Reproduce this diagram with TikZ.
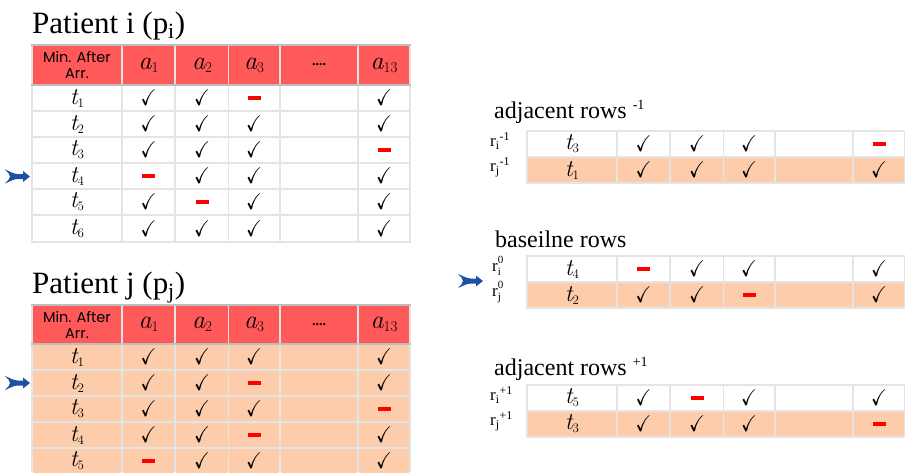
\documentclass[tikz,border=0pt]{standalone}
\usepackage{amssymb}
\usepackage{graphicx}
\usepackage{fontspec}
\setmainfont{Liberation Serif}
\newfontfamily\serifont{Liberation Serif}
\newfontfamily\handfont{Poppins}
\newfontfamily\lmfont{Latin Modern Roman}
\definecolor{headred}{RGB}{255,89,89}
\definecolor{peach}{RGB}{253,204,170}
\definecolor{gridgray}{RGB}{228,228,228}
\definecolor{edgegray}{RGB}{190,190,190}
\definecolor{dashred}{RGB}{255,0,0}
\definecolor{arrowblue}{RGB}{31,80,165}
\newcommand\mkk{\scalebox{1}[1.2]{\checkmark}}
\newcommand\mkd{\textcolor{dashred}{\rule{13pt}{4pt}}}
\newcommand\tlbl[1]{{\itshape t}\raisebox{-3pt}{\fontsize{13}{13}\selectfont #1}}
\newcommand\albl[1]{{\itshape a}\raisebox{-3pt}{\fontsize{15}{15}\selectfont #1}}
\def\xo{0}
\tikzset{
 cellmark/.style={inner sep=0pt,font=\fontsize{19}{19}\selectfont},
 tlab/.style={inner sep=0pt,font=\lmfont\fontsize{24}{24}\selectfont},
 alab/.style={inner sep=0pt,font=\lmfont\fontsize{26}{26}\selectfont},
 minlab/.style={inner sep=0pt,align=center,font=\handfont\fontsize{14.5}{16}\selectfont},
 titletext/.style={inner sep=0pt,anchor=base west,font=\serifont\fontsize{31}{31}\selectfont},
 subtitle/.style={inner sep=0pt,anchor=base west,font=\serifont\fontsize{24}{24}\selectfont},
 rlab/.style={inner sep=0pt,anchor=west,font=\serifont\fontsize{17}{17}\selectfont},
 fletch/.pic={\fill[arrowblue] (-25,-7) .. controls (-19,-4.5) and (-16,-2.5) .. (-12,-2.5) -- (-7,-2.5) -- (-7,-5.5) -- (0,0) -- (-7,5.5) -- (-7,2.5) -- (-12,2.5) .. controls (-16,2.5) and (-19,4.5) .. (-25,7) .. controls (-21,3) .. (-20,0) .. controls (-21,-3) .. (-25,-7) -- cycle;}
}
% data row: #1 name, #2 top, #3 bottom, #4 fill, #5 t index, #6 marks
\newcommand\drow[6]{%
  \foreach \lx/\rx in {33/121,123/174,176/228,229/279,281/357,359/409}
    \fill[#4] ({\lx+\xo},#2) rectangle ({\rx+\xo},#3);
  \node[tlab] (#1-t) at ({77+\xo},{(#2+#3)/2}) {\tlbl{#5}};
  \foreach \m [count=\k] in {#6} {
    \pgfmathsetmacro\cx{{148.5,202,254,384}[\k-1]+\xo}
    \node[cellmark] (#1-\k) at (\cx,{(#2+#3)/2}) {\csname mk\m\endcsname};
  }%
}
% header row: #1 name, #2 top, #3 bottom
\newcommand\hrow[3]{%
  \foreach \lx/\rx in {33/121,123/174,176/228,229/279,281/357,359/409}
    \fill[headred] (\lx,#2) rectangle (\rx,#3);
  \node[minlab] (#1-h0) at (77,{(#2+#3)/2}) {Min. After\\Arr.};
  \node[alab] (#1-h1) at (148.5,{(#2+#3)/2}) {\albl{1}};
  \node[alab] (#1-h2) at (202,{(#2+#3)/2}) {\albl{2}};
  \node[alab] (#1-h3) at (254,{(#2+#3)/2}) {\albl{3}};
  \node[alab,font=\fontsize{14}{14}\selectfont] (#1-h4) at (319,{(#2+#3)/2}) {\textbf{....}};
  \node[alab] (#1-h5) at (384,{(#2+#3)/2}) {\albl{13}};
}
\begin{document}
\begin{tikzpicture}[x=1pt,y=-1pt]
\useasboundingbox (0,0) rectangle (905,472);
\fill[white] (0,0) rectangle (905,472);

% ---------- Patient i ----------
\node[titletext] (ti) at (32,33) {Patient i (p\textsubscript{i})};
\fill[gridgray] (31,44) rectangle (411,243);
\fill[edgegray] (31,44) rectangle (411,46);
\fill[edgegray] (31,84) rectangle (411,86);
\hrow{pi}{46}{84}
\drow{pi1}{86}{110}{white}{1}{k,k,d,k}
\drow{pi2}{112}{136}{white}{2}{k,k,k,k}
\drow{pi3}{138}{162}{white}{3}{k,k,k,d}
\drow{pi4}{164}{188}{white}{4}{d,k,k,k}
\drow{pi5}{190}{214}{white}{5}{k,d,k,k}
\drow{pi6}{216}{241}{white}{6}{k,k,k,k}
\pic at (30,176.5) {fletch};

% ---------- Patient j ----------
\node[titletext] (tj) at (32,293) {Patient j (p\textsubscript{j})};
\fill[gridgray] (31,304) rectangle (411,472);
\fill[edgegray] (31,304) rectangle (411,306);
\fill[edgegray] (31,343) rectangle (411,345);
\hrow{pj}{306}{343}
\drow{pj1}{345}{369}{peach}{1}{k,k,k,k}
\drow{pj2}{371}{395}{peach}{2}{k,k,d,k}
\drow{pj3}{397}{421}{peach}{3}{k,k,k,d}
\drow{pj4}{423}{447}{peach}{4}{k,k,d,k}
\drow{pj5}{449}{473}{peach}{5}{d,k,k,k}
\pic at (30,383) {fletch};

% ---------- right side ----------
\def\xo{495}
\node[subtitle] (adjm) at (494,118) {adjacent rows \raisebox{9pt}{\fontsize{14}{14}\selectfont -1}};
\fill[gridgray] (526,130) rectangle (905,184);
\drow{am1}{132}{156}{white}{3}{k,k,k,d}
\drow{am2}{158}{182}{peach}{1}{k,k,k,k}
\node[rlab] (rim) at (490,141) {r\textsubscript{i}\textsuperscript{-1}};
\node[rlab] (rjm) at (490,167) {r\textsubscript{j}\textsuperscript{-1}};

\node[subtitle] (base) at (495,247) {baseilne rows};
\fill[gridgray] (526,255) rectangle (905,309);
\drow{b1}{257}{281}{white}{4}{d,k,k,k}
\drow{b2}{283}{307}{peach}{2}{k,k,d,k}
\node[rlab] (ri0) at (492,266) {r\makebox[0pt][l]{\raisebox{8pt}{\fontsize{11}{11}\selectfont 0}}\raisebox{-4pt}{\fontsize{11}{11}\selectfont i}};
\node[rlab] (rj0) at (492,292) {r\makebox[0pt][l]{\raisebox{8pt}{\fontsize{11}{11}\selectfont 0}}\raisebox{-4pt}{\fontsize{11}{11}\selectfont j}};
\pic at (483,281) {fletch};

\node[subtitle] (adjp) at (494,375) {adjacent rows \raisebox{9pt}{\fontsize{14}{14}\selectfont +1}};
\fill[gridgray] (526,384) rectangle (905,438);
\drow{ap1}{386}{410}{white}{5}{k,d,k,k}
\drow{ap2}{412}{436}{peach}{3}{k,k,k,d}
\node[rlab] (rip) at (490,395) {r\textsubscript{i}\textsuperscript{+1}};
\node[rlab] (rjp) at (490,421) {r\textsubscript{j}\textsuperscript{+1}};
\end{tikzpicture}
\end{document}
